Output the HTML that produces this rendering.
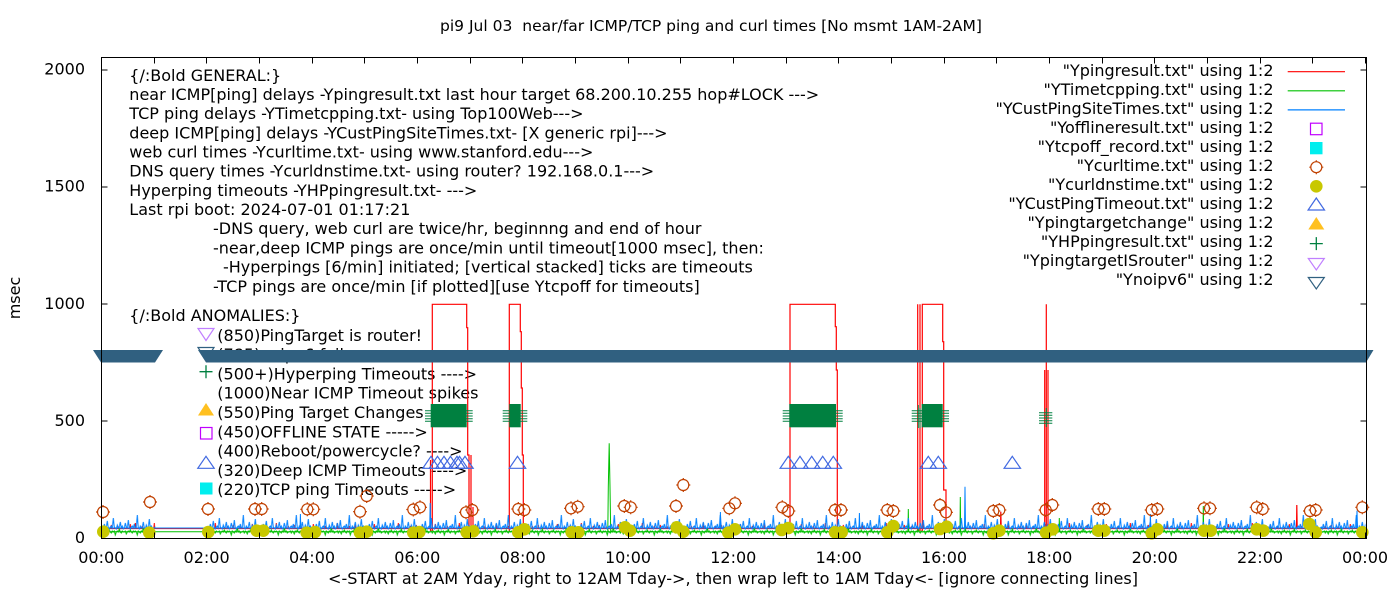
<!DOCTYPE html>
<html><head><meta charset="utf-8">
<style>
html,body{margin:0;padding:0;background:#fff;}
svg{display:block;}
text{font-family:"DejaVu Sans","Liberation Sans",sans-serif;font-size:16px;fill:#000;white-space:pre;}
</style></head>
<body>
<svg width="1400" height="600" viewBox="0 0 1400 600" xmlns="http://www.w3.org/2000/svg" xml:space="preserve">
<defs>
 <g id="co"><circle r="5.5" fill="none" stroke="#c04000" stroke-width="1.2"/><path d="M0,-7V-5.5M0,5.5V7M-7,0H-5.5M5.5,0H7" stroke="#c04000" stroke-width="1.2"/></g>
 <circle id="cf" r="6.3" fill="#c8c800"/>
 <path id="tb" d="M0,-6.5L8.2,5.5H-8.2Z" fill="none" stroke="#4169e1" stroke-width="1.2"/>
 <pattern id="pR" patternUnits="userSpaceOnUse" x="101.3" y="500" width="61" height="40">
  <path d="M0,28.5H3.5L4,26L4.5,28.5H9.5L10,25L10.5,28.5H16.5L17,26.5L17.5,28.5H28.5L29,24L29.5,28.5H40.5L41,26L41.5,28.5H52.5L53,23L53.5,28.5H61" fill="none" stroke="#ff0000" stroke-width="1"/>
 </pattern>
 <pattern id="pG" patternUnits="userSpaceOnUse" x="101.3" y="500" width="47" height="40">
  <polyline points="0,32 1,31 2,33 3,31 4,32 5,34 6,31 7,32 8,30 9,32 10,33 11,31 12,32 13,31 14,35 15,32 16,31 17,32 18,29 19,32 20,33 21,31 22,32 23,32 24,31 25,34 26,32 27,31 28,32 29,30 30,32 31,33 32,31 33,32 34,31 35,32 36,35 37,31 38,32 39,33 40,31 41,32 42,28 43,32 44,31 45,33 46,32 47,32" fill="none" stroke="#00c000" stroke-width="1"/>
 </pattern>
 <pattern id="pB" patternUnits="userSpaceOnUse" x="101.3" y="500" width="53" height="40">
  <polyline points="0,28 1,27 2,29 3,24 4,28 5,27 6,21 7,28 8,29 9,27 10,26 11,28 12,18 13,27 14,28 15,29 16,25 17,28 18,27 19,22 20,28 21,26 22,29 23,28 24,23 25,27 26,28 27,20 28,28 29,29 30,27 31,26 32,28 33,24 34,28 35,27 36,15 37,28 38,29 39,26 40,28 41,27 42,22 43,28 44,29 45,25 46,28 47,27 48,19 49,28 50,26 51,28 52,28 53,28" fill="none" stroke="#0080ff" stroke-width="1"/>
 </pattern>
</defs>
<rect width="1400" height="600" fill="#fff"/>

<!-- title -->
<text x="440" y="31" textLength="542" lengthAdjust="spacingAndGlyphs" style="font-size:15.5px">pi9 Jul 03  near/far ICMP/TCP ping and curl times [No msmt 1AM-2AM]</text>

<!-- y label -->
<text transform="translate(20,298) rotate(-90)" text-anchor="middle">msec</text>

<!-- y tick labels -->
<g text-anchor="end">
<text x="85" y="74.5">2000</text>
<text x="85" y="191.5">1500</text>
<text x="85" y="308.8">1000</text>
<text x="85" y="426">500</text>
<text x="85" y="543">0</text>
</g>

<!-- x tick labels -->
<g text-anchor="middle">
<text x="101.3" y="563">00:00</text>
<text x="206.6" y="563">02:00</text>
<text x="312" y="563">04:00</text>
<text x="417.3" y="563">06:00</text>
<text x="522.7" y="563">08:00</text>
<text x="628" y="563">10:00</text>
<text x="733.3" y="563">12:00</text>
<text x="838.7" y="563">14:00</text>
<text x="944" y="563">16:00</text>
<text x="1049.3" y="563">18:00</text>
<text x="1154.7" y="563">20:00</text>
<text x="1260" y="563">22:00</text>
<text x="1365" y="563">00:00</text>
</g>

<!-- x label -->
<text x="328" y="584" textLength="810" lengthAdjust="spacingAndGlyphs">&lt;-START at 2AM Yday, right to 12AM Tday-&gt;, then wrap left to 1AM Tday&lt;- [ignore connecting lines]</text>

<!-- GENERAL annotation block -->
<text x="129.3" y="80.8">{/:Bold GENERAL:}</text>
<text x="129.3" y="100">near ICMP[ping] delays -Ypingresult.txt last hour target 68.200.10.255 hop#LOCK ---&gt;</text>
<text x="129.3" y="119.2">TCP ping delays -YTimetcpping.txt- using Top100Web---&gt;</text>
<text x="129.3" y="138.3">deep ICMP[ping] delays -YCustPingSiteTimes.txt- [X generic rpi]---&gt;</text>
<text x="129.3" y="157.5">web curl times -Ycurltime.txt- using www.stanford.edu---&gt;</text>
<text x="129.3" y="176.7">DNS query times -Ycurldnstime.txt- using router? 192.168.0.1---&gt;</text>
<text x="129.3" y="195.9">Hyperping timeouts -YHPpingresult.txt- ---&gt;</text>
<text x="129.3" y="215.1">Last rpi boot: 2024-07-01 01:17:21</text>
<text x="213" y="234.2">-DNS query, web curl are twice/hr, beginnng and end of hour</text>
<text x="213" y="253.4">-near,deep ICMP pings are once/min until timeout[1000 msec], then:</text>
<text x="223" y="272.6">-Hyperpings [6/min] initiated; [vertical stacked] ticks are timeouts</text>
<text x="213" y="291.8">-TCP pings are once/min [if plotted][use Ytcpoff for timeouts]</text>

<text x="129.3" y="320.8">{/:Bold ANOMALIES:}</text>
<text x="217.3" y="340.8">(850)PingTarget is router!</text>
<text x="217.3" y="360.1">(785)noipv6 failures</text>
<text x="217.3" y="379.4">(500+)Hyperping Timeouts ----&gt;</text>
<text x="217.3" y="398.7">(1000)Near ICMP Timeout spikes</text>
<text x="217.3" y="418">(550)Ping Target Changes</text>
<text x="217.3" y="437.3">(450)OFFLINE STATE -----&gt;</text>
<text x="217.3" y="456.6">(400)Reboot/powercycle? ----&gt;</text>
<text x="217.3" y="475.9">(320)Deep ICMP Timeouts ----&gt;</text>
<text x="217.3" y="495.2">(220)TCP ping Timeouts -----&gt;</text>

<!-- anomaly symbols -->
<path d="M198,328.5H214L206,340.5Z" fill="none" stroke="#c080ff" stroke-width="1.2"/>
<path d="M198,347.5H214L206,360Z" fill="none" stroke="#306080" stroke-width="1.2"/>
<path d="M199.5,371.7H212.5M206,365.2V378.2" stroke="#008040" stroke-width="1.3"/>
<path d="M206,403L214,415.5H198Z" fill="#ffc020"/>
<rect x="200.5" y="427.5" width="11.5" height="11.5" fill="none" stroke="#c000ff" stroke-width="1.2"/>
<use href="#tb" x="206" y="462.8"/>
<rect x="200" y="482.5" width="12.5" height="12" fill="#00eeee"/>

<!-- Legend -->
<g text-anchor="end">
<text x="1273.5" y="75.8">"Ypingresult.txt" using 1:2</text>
<text x="1273.5" y="94.8">"YTimetcpping.txt" using 1:2</text>
<text x="1273.5" y="113.8">"YCustPingSiteTimes.txt" using 1:2</text>
<text x="1273.5" y="132.8">"Yofflineresult.txt" using 1:2</text>
<text x="1273.5" y="151.8">"Ytcpoff_record.txt" using 1:2</text>
<text x="1273.5" y="170.8">"Ycurltime.txt" using 1:2</text>
<text x="1273.5" y="189.8">"Ycurldnstime.txt" using 1:2</text>
<text x="1273.5" y="208.8">"YCustPingTimeout.txt" using 1:2</text>
<text x="1273.5" y="227.8">"Ypingtargetchange" using 1:2</text>
<text x="1273.5" y="246.8">"YHPpingresult.txt" using 1:2</text>
<text x="1273.5" y="265.8">"YpingtargetISrouter" using 1:2</text>
<text x="1273.5" y="284.8">"Ynoipv6" using 1:2</text>
</g>
<path d="M1287.7,71.7H1345" stroke="#ff0000" stroke-width="1.2"/>
<path d="M1287.7,90.8H1345" stroke="#00c000" stroke-width="1.2"/>
<path d="M1287.7,109.9H1345" stroke="#0080ff" stroke-width="1.2"/>
<rect x="1310.5" y="123.2" width="11.5" height="11.5" fill="none" stroke="#c000ff" stroke-width="1.2"/>
<rect x="1310" y="142" width="12.5" height="12.3" fill="#00eeee"/>
<use href="#co" x="1316.3" y="167.2"/>
<use href="#cf" x="1316.3" y="186.3"/>
<use href="#tb" x="1316.3" y="204.5"/>
<path d="M1316.3,217L1324.3,229.5H1308.3Z" fill="#ffc020"/>
<path d="M1309.8,243.6H1322.8M1316.3,237.1V250.1" stroke="#008040" stroke-width="1.3"/>
<path d="M1308.3,258.5H1324.3L1316.3,270Z" fill="none" stroke="#c080ff" stroke-width="1.2"/>
<path d="M1308.3,277.5H1324.3L1316.3,289Z" fill="none" stroke="#306080" stroke-width="1.2"/>

<!-- data: red -->
<path d="M101.3,528.6H1365" stroke="#ff0000" stroke-width="1"/>
<rect x="101.3" y="500" width="54" height="38" fill="url(#pR)"/>
<rect x="206.6" y="500" width="1158.8" height="38" fill="url(#pR)"/>
<g fill="none" stroke="#ff0000" stroke-width="1.2">
<path d="M430.5,531V460 M432.3,531V304.3H466.7V327.7H467.7V455H469V531 M471,531V455 M473,531V507"/>
<path d="M509.3,531V304.3H520.3V331.7H521.3V388H522.3V455H523.3V531"/>
<path d="M790,531V304.3H835.3V326.7H836.3V370H837.3V531"/>
<path d="M917.7,531V304.3 M920,531V304.3 M922.3,531V304.3H942.7V341.7H943.7V490H946V531"/>
<path d="M1046.3,531V304.3 M1044.7,531V370 M1048,531V370"/>
<path d="M1296.5,528.5L1296.8,505L1297.2,528.5 M1000.5,528.5L1000.8,511.7L1001.2,528.5 M135,528.5L135.3,523L135.7,528.5"/>
</g>
<!-- green -->
<path d="M101.3,531.7H1365" stroke="#00c000" stroke-width="1"/>
<rect x="101.3" y="500" width="54" height="38" fill="url(#pG)"/>
<rect x="206.6" y="500" width="1158.8" height="38" fill="url(#pG)"/>
<path d="M607.8,532L608.3,487L609.2,443.3L610,487L610.7,532 M908,532L908.3,509L908.7,532 M960,532L960.3,497L960.7,532 M1203,532L1203.3,506L1203.7,532 M1059,532L1059.3,518L1059.7,532" fill="none" stroke="#00c000" stroke-width="1"/>
<!-- blue -->
<path d="M101.3,528H1365" stroke="#0080ff" stroke-width="1"/>
<rect x="101.3" y="500" width="54" height="38" fill="url(#pB)"/>
<rect x="206.6" y="500" width="1158.8" height="38" fill="url(#pB)"/>
<path d="M429.7,528L430.2,503L430.7,528 M964.5,528L965,486.7L965.5,528 M1356.5,528L1357,510.7L1357.5,528 M720,528L720.4,512L720.8,528 M859,528L859.4,513L859.8,528 M1150,528L1150.4,514L1150.8,528 M300,528L300.4,514L300.8,528" fill="none" stroke="#0080ff" stroke-width="1"/>

<!-- curl circles -->
<g>
<use href="#co" x="103" y="512"/><use href="#co" x="150" y="502"/><use href="#co" x="208" y="509"/><use href="#co" x="255" y="509"/><use href="#co" x="261.7" y="509"/><use href="#co" x="307.3" y="509.3"/><use href="#co" x="313.3" y="509.3"/><use href="#co" x="360" y="511.7"/><use href="#co" x="366.7" y="496"/><use href="#co" x="413.3" y="509.5"/><use href="#co" x="420" y="507.3"/><use href="#co" x="466" y="512.3"/><use href="#co" x="472.3" y="510"/><use href="#co" x="518.3" y="509"/><use href="#co" x="524.3" y="510"/><use href="#co" x="571" y="508.3"/><use href="#co" x="577.7" y="506.7"/><use href="#co" x="624.3" y="506"/><use href="#co" x="630.7" y="507.3"/><use href="#co" x="676" y="506"/><use href="#co" x="683.3" y="485"/><use href="#co" x="729.3" y="508.3"/><use href="#co" x="735" y="503.3"/><use href="#co" x="782.3" y="507.3"/><use href="#co" x="788.3" y="511"/><use href="#co" x="835" y="510"/><use href="#co" x="841" y="510"/><use href="#co" x="887.3" y="510"/><use href="#co" x="893.3" y="511"/><use href="#co" x="940" y="505"/><use href="#co" x="946" y="512.3"/><use href="#co" x="993.3" y="511"/><use href="#co" x="999.3" y="510"/><use href="#co" x="1045.7" y="510"/><use href="#co" x="1052.3" y="505"/><use href="#co" x="1098.3" y="509"/><use href="#co" x="1104.3" y="509"/><use href="#co" x="1151.7" y="510"/><use href="#co" x="1157.3" y="509"/><use href="#co" x="1204" y="508.3"/><use href="#co" x="1210" y="508.3"/><use href="#co" x="1256.7" y="507.3"/><use href="#co" x="1262.7" y="509"/><use href="#co" x="1310" y="511"/><use href="#co" x="1315.7" y="510"/><use href="#co" x="1362.3" y="507.3"/>
</g>
<!-- dns filled circles -->
<g>
<use href="#cf" x="103.3" y="531.7"/><use href="#cf" x="149.3" y="532.7"/><use href="#cf" x="208.3" y="532"/><use href="#cf" x="256.7" y="530.7"/><use href="#cf" x="263.3" y="530.7"/><use href="#cf" x="306.7" y="532.7"/><use href="#cf" x="315" y="532"/><use href="#cf" x="360" y="532.7"/><use href="#cf" x="366.7" y="531.7"/><use href="#cf" x="413.3" y="532.7"/><use href="#cf" x="419.3" y="532"/><use href="#cf" x="466.7" y="532.3"/><use href="#cf" x="473.3" y="531.3"/><use href="#cf" x="518.3" y="532.3"/><use href="#cf" x="524.3" y="529.3"/><use href="#cf" x="571.7" y="532.3"/><use href="#cf" x="578.3" y="532.3"/><use href="#cf" x="625" y="527.3"/><use href="#cf" x="630" y="530.7"/><use href="#cf" x="676.7" y="527.3"/><use href="#cf" x="683.3" y="531.7"/><use href="#cf" x="728.3" y="532.7"/><use href="#cf" x="735" y="529.3"/><use href="#cf" x="781.7" y="530"/><use href="#cf" x="788.3" y="528"/><use href="#cf" x="835" y="532.3"/><use href="#cf" x="841.7" y="532.3"/><use href="#cf" x="887.3" y="532.3"/><use href="#cf" x="893.3" y="526"/><use href="#cf" x="940" y="529"/><use href="#cf" x="946.7" y="526.7"/><use href="#cf" x="993.3" y="533.3"/><use href="#cf" x="999.3" y="530.7"/><use href="#cf" x="1046" y="532.7"/><use href="#cf" x="1052.7" y="529.3"/><use href="#cf" x="1098.3" y="530.7"/><use href="#cf" x="1104.3" y="530.7"/><use href="#cf" x="1151.7" y="533.3"/><use href="#cf" x="1157.3" y="529.3"/><use href="#cf" x="1204" y="530.7"/><use href="#cf" x="1210.7" y="530.7"/><use href="#cf" x="1256.7" y="529.3"/><use href="#cf" x="1263.3" y="530.7"/><use href="#cf" x="1309.3" y="524"/><use href="#cf" x="1315.7" y="532.3"/><use href="#cf" x="1362.3" y="532.3"/>
</g>

<!-- deep ICMP timeouts triangles -->
<g>
<use href="#tb" x="431" y="462.8"/><use href="#tb" x="437.5" y="462.8"/><use href="#tb" x="444" y="462.8"/><use href="#tb" x="450.5" y="462.8"/><use href="#tb" x="457" y="462.8"/><use href="#tb" x="459.5" y="462.8"/><use href="#tb" x="465" y="462.8"/>
<use href="#tb" x="517.5" y="462.8"/>
<use href="#tb" x="788.3" y="462.8"/><use href="#tb" x="800" y="462.8"/><use href="#tb" x="811.7" y="462.8"/><use href="#tb" x="822.7" y="462.8"/><use href="#tb" x="833.3" y="462.8"/>
<use href="#tb" x="928.3" y="462.8"/><use href="#tb" x="938.3" y="462.8"/>
<use href="#tb" x="1012.3" y="462.8"/>
</g>

<!-- Hyperping timeout stacks -->
<g fill="#008040">
<rect x="430.7" y="404" width="36" height="23.3"/>
<rect x="509.3" y="404" width="11.4" height="23.3"/>
<rect x="789.3" y="404" width="46.7" height="23.3"/>
<rect x="921.7" y="404" width="21" height="23.3"/>
</g>
<g stroke="#008040" stroke-width="1" fill="none">
<path d="M425,410.7H472.7M425,413.3H472.7M425,416H472.7M425,418.7H472.7M425,421.3H472.7"/>
<path d="M502.7,410.7H527.3M502.7,413.3H527.3M502.7,416H527.3M502.7,418.7H527.3M502.7,421.3H527.3"/>
<path d="M782.7,410.7H842.7M782.7,413.3H842.7M782.7,416H842.7M782.7,418.7H842.7M782.7,421.3H842.7"/>
<path d="M911.7,410.7H949M911.7,413.3H949M911.7,416H949M911.7,418.7H949M911.7,421.3H949M918.3,405V428M920,408V428"/>
<path d="M1039,412.7H1052.3M1039,415.3H1052.3M1039,418H1052.3M1039,420.7H1052.3M1039,423.3H1052.3M1046.3,408V427"/>
</g>

<!-- noipv6 band -->
<g fill="#306080">
<polygon points="93,350 163,350 155,362.5 101,362.5"/>
<polygon points="198,350 1373.5,350 1366,362.5 206,362.5"/>
</g>

<!-- frame and ticks -->
<g stroke="#000" stroke-width="1" fill="none" shape-rendering="crispEdges">
<rect x="101.5" y="57.5" width="1265" height="481"/>
<path d="M101.5,69.8H107.5M101.5,186.9H107.5M101.5,304H107.5M101.5,421.2H107.5M1360.5,69.8H1366.5M1360.5,186.9H1366.5M1360.5,304H1366.5M1360.5,421.2H1366.5"/>
<path d="M154.5,538.5V532.5M206.5,538.5V532.5M259.5,538.5V532.5M312.5,538.5V532.5M364.5,538.5V532.5M417.5,538.5V532.5M470.5,538.5V532.5M522.5,538.5V532.5M575.5,538.5V532.5M628.5,538.5V532.5M680.5,538.5V532.5M733.5,538.5V532.5M786.5,538.5V532.5M838.5,538.5V532.5M891.5,538.5V532.5M944.5,538.5V532.5M996.5,538.5V532.5M1049.5,538.5V532.5M1102.5,538.5V532.5M1154.5,538.5V532.5M1207.5,538.5V532.5M1260.5,538.5V532.5M1312.5,538.5V532.5M1365.5,538.5V532.5"/>
<path d="M154.5,57.5V63.5M206.5,57.5V63.5M259.5,57.5V63.5M312.5,57.5V63.5M364.5,57.5V63.5M417.5,57.5V63.5M470.5,57.5V63.5M522.5,57.5V63.5M575.5,57.5V63.5M628.5,57.5V63.5M680.5,57.5V63.5M733.5,57.5V63.5M786.5,57.5V63.5M838.5,57.5V63.5M891.5,57.5V63.5M944.5,57.5V63.5M996.5,57.5V63.5M1049.5,57.5V63.5M1102.5,57.5V63.5M1154.5,57.5V63.5M1207.5,57.5V63.5M1260.5,57.5V63.5M1312.5,57.5V63.5M1365.5,57.5V63.5"/>
</g>
</svg>
</body></html>
